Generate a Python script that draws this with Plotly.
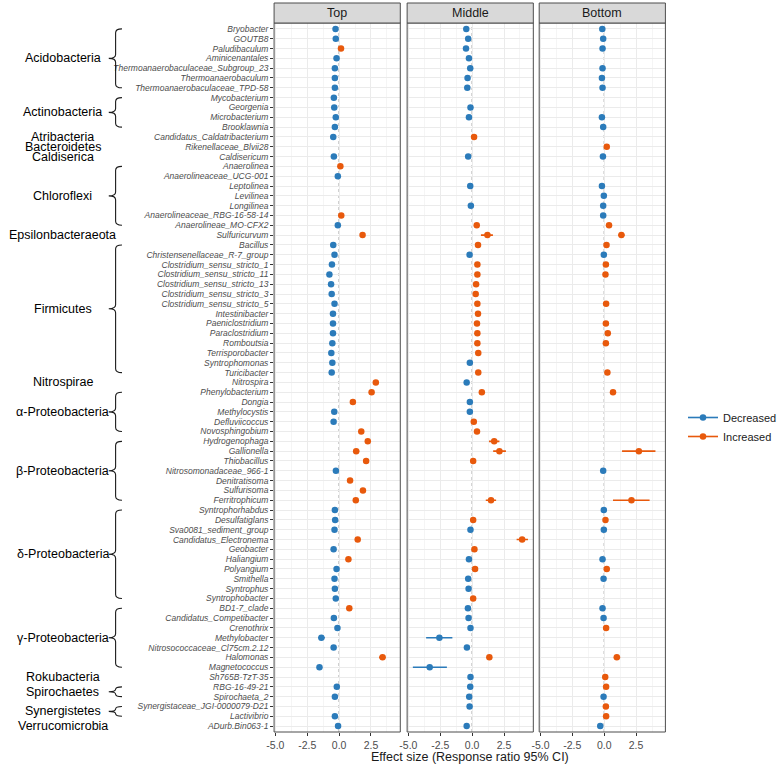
import plotly.graph_objects as go

# ---------------- data ----------------
genera = [
    "Bryobacter", "GOUTB8", "Paludibaculum", "Aminicenantales",
    "Thermoanaerobaculaceae_Subgroup_23", "Thermoanaerobaculum", "Thermoanaerobaculaceae_TPD-58",
    "Mycobacterium", "Georgenia", "Microbacterium", "Brooklawnia",
    "Candidatus_Caldatribacterium", "Rikenellaceae_Blvii28", "Caldisericum",
    "Anaerolinea", "Anaerolineaceae_UCG-001", "Leptolinea", "Levilinea", "Longilinea",
    "Anaerolineaceae_RBG-16-58-14", "Anaerolineae_MO-CFX2",
    "Sulfuricurvum",
    "Bacillus", "Christensenellaceae_R-7_group", "Clostridium_sensu_stricto_1",
    "Clostridium_sensu_stricto_11", "Clostridium_sensu_stricto_13", "Clostridium_sensu_stricto_3",
    "Clostridium_sensu_stricto_5", "Intestinibacter", "Paeniclostridium", "Paraclostridium",
    "Romboutsia", "Terrisporobacter", "Syntrophomonas", "Turicibacter",
    "Nitrospira",
    "Phenylobacterium", "Dongia", "Methylocystis", "Defluviicoccus", "Novosphingobium",
    "Hydrogenophaga", "Gallionella", "Thiobacillus", "Nitrosomonadaceae_966-1",
    "Denitratisoma", "Sulfurisoma", "Ferritrophicum",
    "Syntrophorhabdus", "Desulfatiglans", "Sva0081_sediment_group", "Candidatus_Electronema",
    "Geobacter", "Haliangium", "Polyangium", "Smithella", "Syntrophus", "Syntrophobacter",
    "BD1-7_clade", "Candidatus_Competibacter", "Crenothrix", "Methylobacter",
    "Nitrosococcaceae_Cl75cm.2.12", "Halomonas", "Magnetococcus",
    "Sh765B-TzT-35", "RBG-16-49-21", "Spirochaeta_2",
    "Synergistaceae_JGI-0000079-D21", "Lactivibrio", "ADurb.Bin063-1",
]

phylum_names = [
    "Acidobacteria", "Actinobacteria", "Atribacteria", "Bacteroidetes", "Caldiserica",
    "Chloroflexi", "Epsilonbacteraeota", "Firmicutes", "Nitrospirae", "α-Proteobacteria",
    "β-Proteobacteria", "δ-Proteobacteria", "γ-Proteobacteria", "Rokubacteria",
    "Spirochaetes", "Synergistetes", "Verrucomicrobia",
]
phylum_sizes = [7, 4, 1, 1, 1, 7, 1, 14, 1, 5, 7, 10, 7, 1, 2, 2, 1]

panel_names = ["Top", "Middle", "Bottom"]

top_est = [
    -0.28, -0.26, 0.15, -0.20, -0.33, -0.33, -0.33,
    -0.41, -0.38, -0.26, -0.33,
    -0.46, None, -0.41,
    0.10, -0.10, None, None, None, 0.17, -0.10,
    1.84,
    -0.46, -0.36, -0.56, -0.76, -0.63, -0.58, -0.36, -0.48, -0.48, -0.48, -0.53, -0.61, -0.53, -0.58,
    2.88,
    2.55, 1.08, -0.38, -0.43, 1.74,
    2.25, 1.34, 2.12, -0.25, 0.86, 1.87, 1.31,
    -0.33, -0.31, -0.36, 1.46, -0.43, 0.73, -0.20, -0.36, -0.33, -0.26,
    0.80, -0.41, -0.13, -1.39, -0.43, 3.41, -1.54,
    None, -0.18, -0.33, None, -0.33, -0.08,
]
mid_est = [
    -0.46, -0.31, -0.48, -0.25, -0.15, -0.36, -0.38,
    None, -0.13, -0.25, None,
    0.15, None, -0.31,
    None, None, -0.15, None, -0.10, None, 0.36,
    1.20,
    0.46, -0.20, 0.41, 0.41, 0.31, 0.28, 0.41, 0.46, 0.38, 0.41, 0.41, 0.48, -0.18, 0.48,
    -0.43,
    0.76, -0.18, -0.18, 0.13, 0.38,
    1.73, 2.14, 0.08, None, None, None, 1.48,
    None, 0.08, -0.13, 3.92, 0.18, -0.25, 0.23, -0.31, -0.28, 0.08,
    -0.33, -0.28, -0.13, -2.57, -0.41, 1.35, -3.33,
    -0.13, -0.15, -0.23, -0.20, None, -0.43,
]
bot_est = [
    -0.15, -0.08, -0.13, None, -0.13, -0.18, -0.13,
    None, None, -0.18, -0.08,
    None, 0.20, -0.10,
    None, None, -0.18, -0.03, -0.08, -0.08, 0.38,
    1.35,
    0.18, -0.03, 0.13, 0.10, None, None, 0.15, None, 0.13, 0.28, 0.13, None, None, 0.25,
    None,
    0.69, None, None, None, None,
    None, 2.72, None, -0.08, None, None, 2.14,
    -0.03, 0.10, -0.03, None, None, -0.13, 0.20, -0.05, None, None,
    -0.13, -0.05, 0.15, None, None, 0.99, None,
    0.08, 0.15, -0.05, 0.13, 0.15, -0.31,
]

# 95% CI (lower, upper) where wider than the point marker
top_ci = {
    "Aminicenantales": (-0.40, 0.00),
    "Gallionella": (1.10, 1.58),
    "Methylobacter": (-1.64, -1.12),
    "Halomonas": (3.13, 3.64),
}
mid_ci = {
    "Sulfuricurvum": (0.69, 1.63),
    "Hydrogenophaga": (1.32, 2.14),
    "Gallionella": (1.65, 2.65),
    "Ferritrophicum": (1.07, 1.88),
    "Candidatus_Electronema": (3.49, 4.38),
    "Methylobacter": (-3.61, -1.55),
    "Magnetococcus": (-4.65, -1.98),
}
bot_ci = {
    "Sulfuricurvum": (1.10, 1.60),
    "Gallionella": (1.40, 4.02),
    "Ferritrophicum": (0.69, 3.56),
    "Halomonas": (0.75, 1.25),
}

x_tickvals = [-5.0, -2.5, 0.0, 2.5]
x_ticktext = ["-5.0", "-2.5", "0.0", "2.5"]
x_minor = [-3.75, -1.25, 1.25, 3.75]

# ---------------- style ----------------
W, H = 782, 766
BLUE = "#2b7bba"
ORANGE = "#e8590c"
FONT = "Liberation Sans, Arial, sans-serif"
GRID = "#EBEBEB"
MINOR = "#F5F5F5"
BORDER = "#4d4d4d"

panel_px = [(272, 401), (408, 537), (543, 672)]
top_px, bot_px = 23, 732
strip_top_px = 3
X_RANGE = [-5.1, 4.8]
n = len(genera)
Y_RANGE = [n + 0.6, 0.4]


def px_x(p):
    return p / W


def px_y(p):
    return 1 - p / H


ydom = [px_y(bot_px), px_y(top_px)]

fig = go.Figure()

panels = [(panel_names[0], top_est, top_ci),
          (panel_names[1], mid_est, mid_ci),
          (panel_names[2], bot_est, bot_ci)]

for i, (pname, est, ci) in enumerate(panels):
    xa = "x" if i == 0 else f"x{i+1}"
    ya = "y" if i == 0 else f"y{i+1}"
    for direction, color in [("Decreased", BLUE), ("Increased", ORANGE)]:
        xs, ys, ep, em = [], [], [], []
        for r, (g, v) in enumerate(zip(genera, est), start=1):
            if v is None:
                continue
            if (v < 0) != (direction == "Decreased"):
                continue
            lo, hi = ci.get(g, (v, v))
            xs.append(v)
            ys.append(r)
            ep.append(hi - v)
            em.append(v - lo)
        fig.add_trace(go.Scatter(
            x=xs, y=ys, xaxis=xa, yaxis=ya, mode="markers",
            marker=dict(color=color, size=6.5),
            error_x=dict(type="data", symmetric=False, array=ep, arrayminus=em,
                         color=color, thickness=1.6, width=0),
            showlegend=False, name=direction,
            text=[genera[y - 1] for y in ys], hoverinfo="text+x",
        ))

for direction, color in [("Decreased", BLUE), ("Increased", ORANGE)]:
    fig.add_trace(go.Scatter(
        x=[None], y=[None], mode="lines+markers", name=direction,
        marker=dict(color=color, size=6.5), line=dict(color=color, width=1.6),
    ))

layout = dict(
    width=W, height=H, autosize=False,
    margin=dict(l=0, r=0, t=0, b=0, pad=0),
    plot_bgcolor="white", paper_bgcolor="white",
    font=dict(family=FONT, color="#1a1a1a"),
    legend=dict(x=px_x(690), y=px_y(427), xanchor="left", yanchor="middle",
                font=dict(size=11, family=FONT, color="#1a1a1a"),
                bgcolor="rgba(0,0,0,0)", itemwidth=30, tracegroupgap=0),
    showlegend=True,
)

shapes = []
annotations = []

for i, (l, r) in enumerate(panel_px):
    xk = "xaxis" if i == 0 else f"xaxis{i+1}"
    yk = "yaxis" if i == 0 else f"yaxis{i+1}"
    xa = "x" if i == 0 else f"x{i+1}"
    ya = "y" if i == 0 else f"y{i+1}"
    layout[xk] = dict(
        domain=[px_x(l), px_x(r)], range=X_RANGE, anchor=ya,
        tickvals=x_tickvals, ticktext=x_ticktext,
        showgrid=True, gridcolor=GRID, gridwidth=1,
        minor=dict(tickvals=x_minor, showgrid=True, gridcolor=MINOR, gridwidth=0.6, ticks=""),
        ticks="outside", ticklen=3, tickcolor="#333333", tickwidth=1,
        tickfont=dict(size=10.5, color="#4d4d4d", family=FONT),
        zeroline=False, showline=False, fixedrange=True,
    )
    layout[yk] = dict(
        domain=ydom, range=Y_RANGE, anchor=xa,
        tickvals=list(range(1, n + 1)), ticktext=genera,
        showticklabels=(i == 0),
        ticks="outside" if i == 0 else "", ticklen=3, tickcolor="#333333", tickwidth=1,
        tickfont=dict(size=8.5, color="#4d4d4d", family=FONT, style="italic"),
        showgrid=True, gridcolor=GRID, gridwidth=1,
        zeroline=False, showline=False, fixedrange=True,
    )
    # dotted zero line
    shapes.append(dict(type="line", xref=xa, yref="paper", x0=0, x1=0,
                       y0=ydom[0], y1=ydom[1],
                       line=dict(color="#8c8c8c", width=1, dash="dot"), layer="between"))
    # panel border
    shapes.append(dict(type="rect", xref="paper", yref="paper",
                       x0=px_x(l), x1=px_x(r), y0=ydom[0], y1=ydom[1],
                       line=dict(color=BORDER, width=1), fillcolor="rgba(0,0,0,0)"))
    # strip
    shapes.append(dict(type="rect", xref="paper", yref="paper",
                       x0=px_x(l), x1=px_x(r), y0=px_y(top_px), y1=px_y(strip_top_px),
                       line=dict(color=BORDER, width=1), fillcolor="#D9D9D9"))
    annotations.append(dict(text=panel_names[i], xref="paper", yref="paper",
                            x=(px_x(l) + px_x(r)) / 2, y=px_y((strip_top_px + top_px) / 2),
                            xanchor="center", yanchor="middle", showarrow=False,
                            font=dict(size=12.5, color="#1a1a1a", family=FONT)))

# x axis title
annotations.append(dict(text="Effect size (Response ratio 95% CI)", xref="paper", yref="paper",
                        x=px_x((panel_px[0][0] + panel_px[2][1]) / 2), y=px_y(757),
                        xanchor="center", yanchor="middle", showarrow=False,
                        font=dict(size=12.5, color="#1a1a1a", family=FONT)))

# phylum labels and braces
lab_x = px_x(56)
xv = px_x(110)
xh = px_x(116.5)
xt = px_x(103)
start = 1
for name, size in zip(phylum_names, phylum_sizes):
    first, last = start, start + size - 1
    mid = (first + last) / 2
    annotations.append(dict(text=name, xref="paper", yref="y", x=lab_x, y=mid,
                            xanchor="center", yanchor="middle", showarrow=False,
                            font=dict(size=12.5, color="#000000", family=FONT)))
    if size > 1:
        rr = min(0.4, (last - first) / 4)
        path = (f"M {xh},{first} Q {xv},{first} {xv},{first + rr} "
                f"L {xv},{mid - rr} Q {xv},{mid} {xt},{mid} "
                f"Q {xv},{mid} {xv},{mid + rr} "
                f"L {xv},{last - rr} Q {xv},{last} {xh},{last}")
        shapes.append(dict(type="path", xref="paper", yref="y", path=path,
                           line=dict(color="#1a1a1a", width=1.1)))
    start = last + 1

layout["shapes"] = shapes
layout["annotations"] = annotations
fig.update_layout(**layout)

fig.write_html("out.html", config={"displayModeBar": False},
               post_script="document.body.style.margin='0px';document.body.style.padding='0px';")
